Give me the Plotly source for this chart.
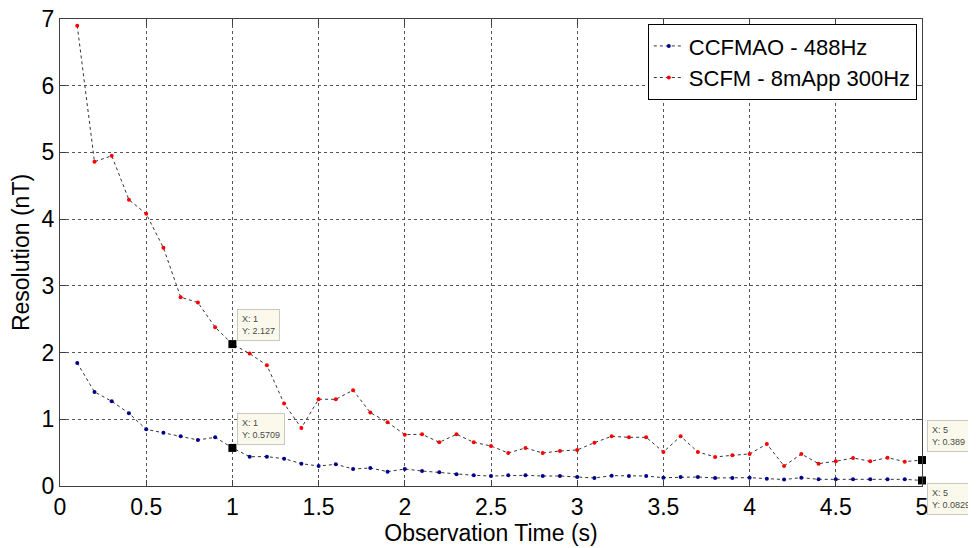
import plotly.graph_objects as go

# observation time (s)
time_s = [round(0.1 * i, 1) for i in range(1, 51)]

ccfmao_488 = [1.845, 1.41, 1.27, 1.09, 0.85, 0.80, 0.745, 0.69, 0.73, 0.5709,
              0.44, 0.44, 0.41, 0.335, 0.30, 0.325, 0.255, 0.27, 0.215, 0.255,
              0.225, 0.205, 0.175, 0.16, 0.15, 0.16, 0.16, 0.15, 0.15, 0.135,
              0.12, 0.155, 0.15, 0.15, 0.125, 0.135, 0.135, 0.12, 0.12, 0.125,
              0.11, 0.097, 0.125, 0.10, 0.10, 0.10, 0.10, 0.10, 0.10, 0.08295]

scfm_300 = [6.90, 4.86, 4.95, 4.29, 4.08, 3.57, 2.83, 2.75, 2.38, 2.127,
            1.985, 1.81, 1.235, 0.87, 1.30, 1.30, 1.435, 1.10, 0.955, 0.77,
            0.775, 0.655, 0.775, 0.655, 0.60, 0.495, 0.57, 0.495, 0.525, 0.54,
            0.65, 0.745, 0.73, 0.73, 0.51, 0.745, 0.51, 0.435, 0.46, 0.48,
            0.63, 0.30, 0.48, 0.335, 0.37, 0.42, 0.37, 0.425, 0.365, 0.389]

# data cursors shown in the figure
tip_x = [1, 1, 5, 5]
tip_y = [2.127, 0.5709, 0.389, 0.08295]
tip_text = ["X: 1<br>Y: 2.127", "X: 1<br>Y: 0.5709",
            "X: 5<br>Y: 0.389", "X: 5<br>Y: 0.08295"]

font = "Liberation Sans, Arial, sans-serif"

fig = go.Figure()
fig.add_trace(go.Scatter(
    x=time_s, y=ccfmao_488, mode="lines+markers", name="CCFMAO - 488Hz",
    line=dict(color="#333333", width=1, dash="dot"),
    marker=dict(color="#00008B", size=4)
))
fig.add_trace(go.Scatter(
    x=time_s, y=scfm_300, mode="lines+markers", name="SCFM - 8mApp 300Hz",
    line=dict(color="#333333", width=1, dash="dot"),
    marker=dict(color="#FF0000", size=4)
))
fig.add_trace(go.Scatter(
    x=tip_x, y=tip_y, mode="markers", showlegend=False, cliponaxis=False,
    marker=dict(color="black", size=8, symbol="square")
))

tip_pos = [("bottom", 5, 3), ("bottom", 5, 3), ("bottom", 5, 8), ("top", 5, -3)]
for x, y, t, (ya, xs, ys) in zip(tip_x, tip_y, tip_text, tip_pos):
    fig.add_annotation(
        x=x, y=y, xref="x", yref="y", text=t, showarrow=False,
        xanchor="left", yanchor=ya, xshift=xs, yshift=ys, align="left",
        font=dict(family=font, size=9, color="#4a4a4a"),
        bgcolor="#FBF9EC", bordercolor="#C8C8C0", borderwidth=1, borderpad=4
    )

axis_style = dict(
    showline=True, linecolor="#404040", linewidth=1, mirror="ticks",
    ticks="inside", ticklen=6, tickcolor="#404040",
    showgrid=True, gridcolor="#555555", griddash="dot", gridwidth=1,
    zeroline=False, automargin=False, ticklabeloverflow="allow",
    tickfont=dict(family=font, size=23, color="black"),
)

fig.update_xaxes(range=[0, 5], dtick=0.5,
                 title=dict(text="Observation Time (s)", standoff=0,
                            font=dict(family=font, size=23, color="black")),
                 **axis_style)
fig.update_yaxes(range=[0, 7], dtick=1,
                 title=dict(text="Resolution (nT)", standoff=6,
                            font=dict(family=font, size=23, color="black")),
                 **axis_style)

# page body adds an 8px margin, so the figure is 8px smaller than the window
fig.update_layout(
    width=968, height=540,
    margin=dict(l=52, r=54, t=11, b=62),
    plot_bgcolor="white", paper_bgcolor="white",
    legend=dict(x=0.994, y=0.989, xanchor="right", yanchor="top",
                bgcolor="white", bordercolor="black", borderwidth=1,
                font=dict(family=font, size=22, color="black"),
                tracegroupgap=0, itemwidth=30),
)

fig.write_html("out.html")
